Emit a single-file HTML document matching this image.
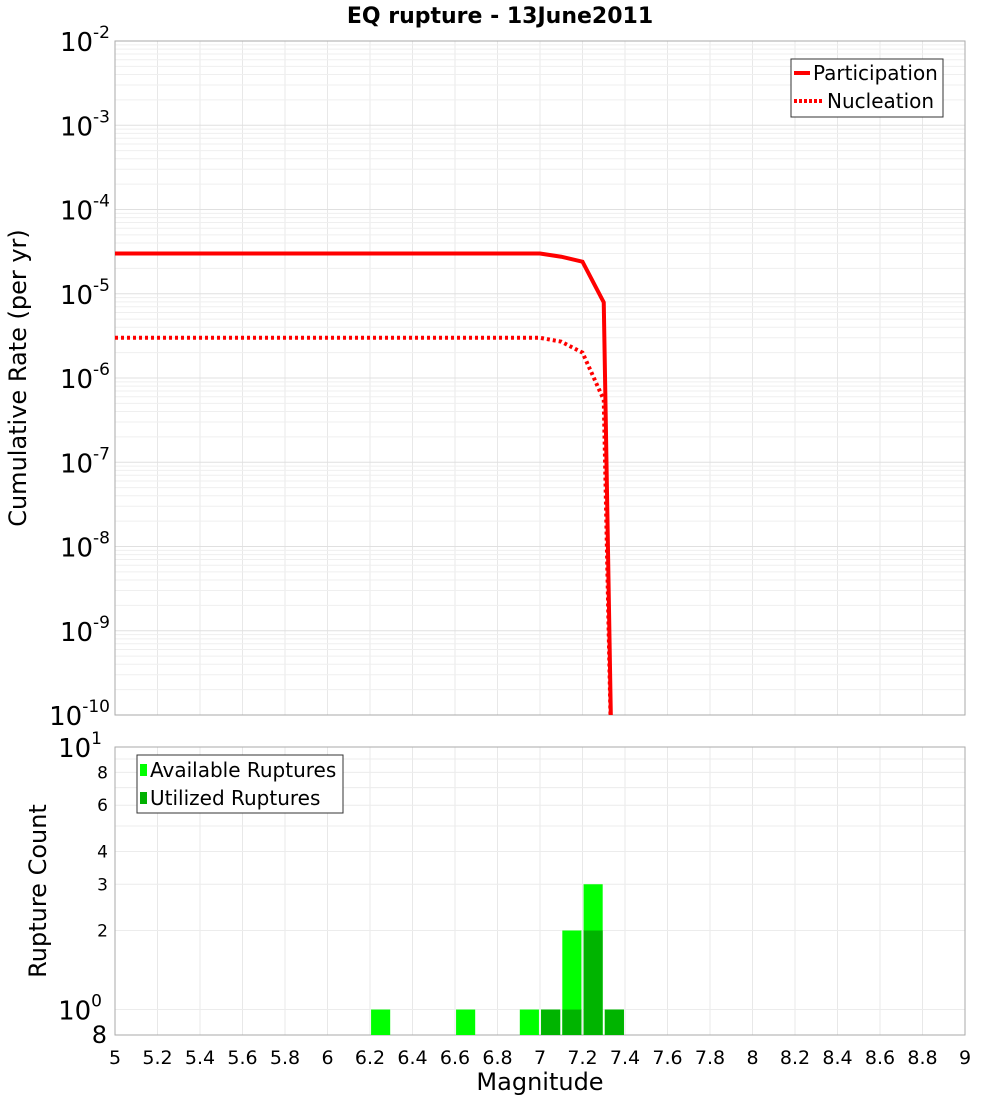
<!DOCTYPE html>
<html><head><meta charset="utf-8"><style>
body{margin:0;background:#fff;font-family:"Liberation Sans","DejaVu Sans",sans-serif;}
svg text{font-family:"DejaVu Sans","Liberation Sans",sans-serif;}
</style></head><body>
<svg id="c" width="1000" height="1100" xmlns="http://www.w3.org/2000/svg">
<defs><clipPath id="clipTop"><rect x="115" y="41" width="850" height="674"/></clipPath>
<clipPath id="clipBot"><rect x="115" y="747" width="850" height="288"/></clipPath></defs>
<text x="500" y="23" text-anchor="middle" font-size="22" font-weight="bold">EQ rupture - 13June2011</text>
<g id="grid"></g>
<rect x="115" y="41" width="850" height="674" fill="none" stroke="#aaa"/>
<rect x="115" y="747" width="850" height="288" fill="none" stroke="#aaa"/>
<g id="bars" clip-path="url(#clipBot)"></g>
<g id="lines" clip-path="url(#clipTop)"></g>
<g id="labels"></g>
<text transform="translate(26,378) rotate(-90)" text-anchor="middle" font-size="24">Cumulative Rate (per yr)</text>
<text transform="translate(46,891) rotate(-90)" text-anchor="middle" font-size="24">Rupture Count</text>
<text x="540" y="1090" text-anchor="middle" font-size="24">Magnitude</text>
<g>
<rect x="791" y="59" width="152" height="58" fill="#fff" stroke="#333"/>
<line x1="794" y1="73" x2="810" y2="73" stroke="#f00" stroke-width="4"/>
<text x="813" y="80" font-size="20">Participation</text>
<line x1="794" y1="101" x2="822" y2="101" stroke="#f00" stroke-width="4" stroke-dasharray="3,2"/>
<text x="827" y="108" font-size="20">Nucleation</text>
</g>
<g>
<rect x="137" y="755" width="206" height="58" fill="#fff" stroke="#333"/>
<rect x="140" y="764" width="7" height="12" fill="#00ff00"/>
<text x="150" y="777" font-size="20">Available Ruptures</text>
<rect x="140" y="792" width="7" height="12" fill="#00b000"/>
<text x="150" y="805" font-size="20">Utilized Ruptures</text>
</g>
</svg>
<script>
const partMag=[5.0,7.0,7.1,7.2,7.3,7.34];
const partRate=[3.0e-5,3.0e-5,2.75e-5,2.4e-5,7.9e-6,1e-11];
const nuclMag=[5.0,7.0,7.1,7.2,7.3,7.34];
const nuclRate=[3.0e-6,3.0e-6,2.7e-6,2.0e-6,5.5e-7,1e-11];
const binCenters=[6.25,6.65,6.95,7.05,7.15,7.25,7.35];
const availCounts=[1,1,1,1,2,3,1];
const utilCounts=[0,0,0,1,1,2,1];
const xTicks=[5,5.2,5.4,5.6,5.8,6,6.2,6.4,6.6,6.8,7,7.2,7.4,7.6,7.8,8,8.2,8.4,8.6,8.8,9];
const topExps=[-10,-9,-8,-7,-6,-5,-4,-3,-2];
const botTicks=[2,3,4,6,8];

const NS="http://www.w3.org/2000/svg";
const X=m=>115+(m-5)*212.5;
const Yt=v=>41+(-2-Math.log10(v))*84.25;
const Yb=v=>1035-(Math.log10(v)-Math.log10(0.8))*262.6;
function mk(t,a,p){const e=document.createElementNS(NS,t);for(const k in a)e.setAttribute(k,a[k]);p.appendChild(e);return e;}
const grid=document.getElementById('grid'),lab=document.getElementById('labels');
xTicks.forEach(m=>{
 const g1=mk('line',{x1:X(m),x2:X(m),y1:41,y2:715,stroke:'#e8e8e8'},grid);
 
 
 const g2=mk('line',{x1:X(m),x2:X(m),y1:747,y2:1035,stroke:'#e8e8e8'},grid);
 
 
 const t=mk('text',{x:X(m),y:1064,'text-anchor':'middle','font-size':19},lab);
 
 
 t.textContent=String(m);
});
for(let e=-10;e<-2;e++)for(let k=1;k<10;k++){
 const y=Yt(k*Math.pow(10,e));
 const l=mk('line',{x1:115,x2:965,y1:y,y2:y,stroke:k==1?'#e0e0e0':'#efefef'},grid);
 
 
}
topExps.forEach(e=>{
 const y=Yt(Math.pow(10,e));
 const t=mk('text',{x:110,y:y+10,'text-anchor':'end','font-size':26},lab);
 
 
 t.innerHTML='10<tspan dy="-13" font-size="17">'+e+'</tspan>';
});
for(let k=1;k<=10;k++){
 const y=Yb(k);
 const l=mk('line',{x1:115,x2:965,y1:y,y2:y,stroke:'#ececec'},grid);
 
 
}
[[1,'10','0'],[10,'10','1']].forEach(([v,b,s])=>{
 const t=mk('text',{x:102,y:Yb(v)+10,'text-anchor':'end','font-size':26},lab);
 
 
 t.innerHTML=b+'<tspan dy="-13" font-size="17">'+s+'</tspan>';
});
botTicks.forEach(v=>{
 const t=mk('text',{x:108,y:Yb(v)+6,'text-anchor':'end','font-size':17},lab);
 
 
 t.textContent=v;
});
{const t=mk('text',{x:107,y:1043,'text-anchor':'end','font-size':24},lab);
 
 
 t.textContent='8';}
const bars=document.getElementById('bars');
binCenters.forEach((c,i)=>{
 if(availCounts[i]>0){const r=mk('rect',{x:X(c-0.045),width:X(c+0.045)-X(c-0.045),y:Yb(availCounts[i]),height:1035-Yb(availCounts[i]),fill:'#00ff00'},bars);
 
 }
 if(utilCounts[i]>0){const r=mk('rect',{x:X(c-0.045),width:X(c+0.045)-X(c-0.045),y:Yb(utilCounts[i]),height:1035-Yb(utilCounts[i]),fill:'#00b400'},bars);
 
 }
});
const lines=document.getElementById('lines');
const p1=mk('polyline',{points:partMag.map((m,i)=>X(m)+','+Yt(partRate[i])).join(' '),fill:'none',stroke:'#f00','stroke-width':4},lines);


const p2=mk('polyline',{points:nuclMag.map((m,i)=>X(m)+','+Yt(nuclRate[i])).join(' '),fill:'none',stroke:'#f00','stroke-width':4,'stroke-dasharray':'3,3'},lines);


</script>
</body></html>
